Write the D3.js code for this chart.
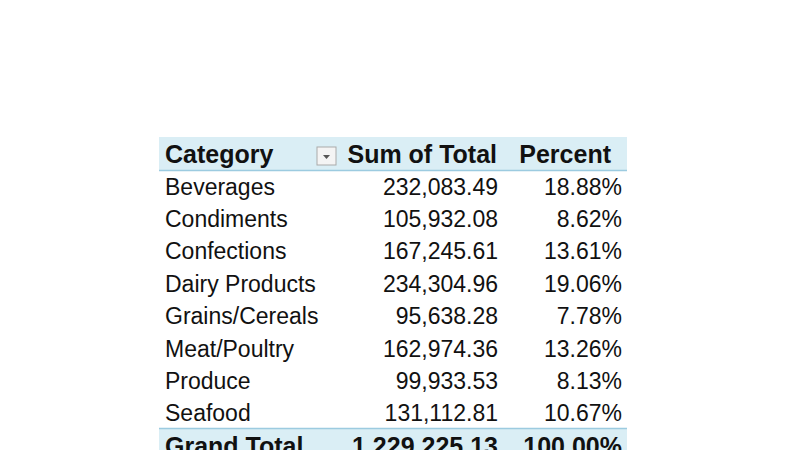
<!DOCTYPE html><html><head><meta charset="utf-8"><script src="https://cdn.jsdelivr.net/npm/d3@7"></script>
<style>body{margin:0;background:#fff}</style></head><body><svg width="800" height="450"></svg>
<script>
const categories=["Beverages","Condiments","Confections","Dairy Products","Grains/Cereals","Meat/Poultry","Produce","Seafood"];
const totals=["232,083.49","105,932.08","167,245.61","234,304.96","95,638.28","162,974.36","99,933.53","131,112.81"];
const percents=["18.88%","8.62%","13.61%","19.06%","7.78%","13.26%","8.13%","10.67%"];
const headers=["Category","Sum of Total","Percent"];
const grand=["Grand Total","1,229,225.13","100.00%"];
const svg=d3.select("svg");
const y=d3.scaleLinear().domain([0,1]).range([154,186.4]);
const font="'Liberation Sans',Arial,sans-serif";
const left=159,right=627,xc=165;
function band(i){svg.append("rect").attr("x",left).attr("y",y(i)-17).attr("width",right-left).attr("height",33).attr("fill","#daeef5");
const ly=i===0?y(i)+16.5:y(i)-17;
svg.append("line").attr("x1",left).attr("x2",right).attr("y1",ly).attr("y2",ly).attr("stroke","#9ccbe0").attr("stroke-width",1.5);}
band(0);band(categories.length+1);
function row(i,vals,bold,xs,xp,fs){
 const g=svg.append("g").attr("font-family",font).attr("font-size",fs).attr("font-weight",bold?"bold":"normal").attr("fill","#111");
 g.append("text").attr("x",xc).attr("y",y(i)).attr("dy","0.36em").text(vals[0]);
 g.append("text").attr("x",xs).attr("y",y(i)).attr("dy","0.36em").attr("text-anchor","end").text(vals[1]);
 g.append("text").attr("x",xp).attr("y",y(i)).attr("dy","0.36em").attr("text-anchor","end").text(vals[2]);}
row(0,headers,true,497,611,25);
svg.append("rect").attr("x",317).attr("y",147).attr("width",19).attr("height",18).attr("fill","#f4f4f4").attr("stroke","#aaa");
svg.append("path").attr("d","M323,155 L330,155 L326.5,159 Z").attr("fill","#555");
categories.forEach((c,i)=>row(i+1,[c,totals[i],percents[i]],false,498,622,23));
row(categories.length+1,grand,true,498,622,25);
</script></body></html>
